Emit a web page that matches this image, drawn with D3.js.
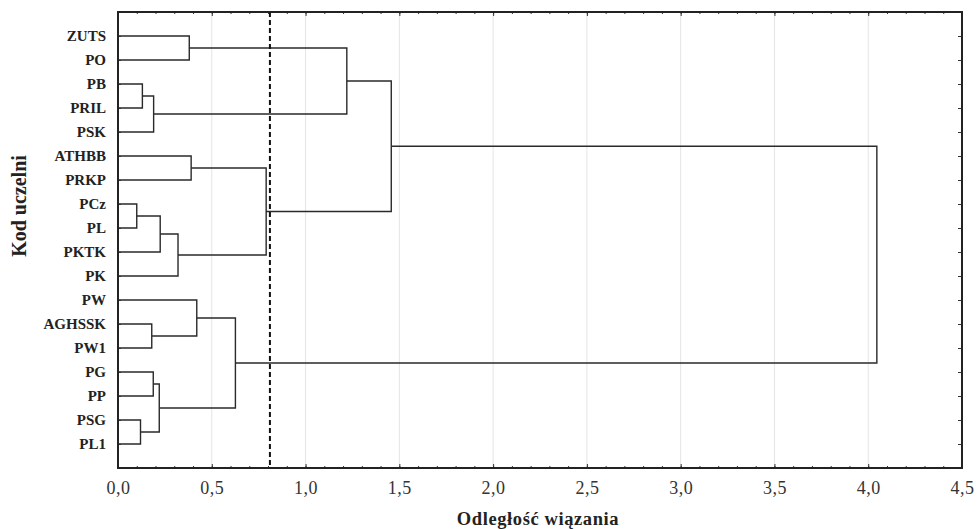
<!DOCTYPE html>
<html>
<head>
<meta charset="utf-8">
<script src="https://cdn.jsdelivr.net/npm/d3@7"></script>
<style>
  body { margin: 0; background: #fff; }
</style>
</head>
<body>
<svg id="chart"></svg>
<script>
let svgWidth = 978, svgHeight = 529
let serif = '"Liberation Serif", "Times New Roman", "DejaVu Serif", serif'

// leaf order, top to bottom
let leaves = ['ZUTS','PO','PB','PRIL','PSK','ATHBB','PRKP','PCz','PL','PKTK','PK',
  'PW','AGHSSK','PW1','PG','PP','PSG','PL1']

// merges: [left child, right child, linkage distance]; children are leaf names or merge ids (m0..)
let merges = [
  ['ZUTS', 'PO', 0.38],      // m0
  ['PB', 'PRIL', 0.13],      // m1
  ['m1', 'PSK', 0.19],       // m2
  ['m0', 'm2', 1.22],        // m3
  ['ATHBB', 'PRKP', 0.39],   // m4
  ['PCz', 'PL', 0.10],       // m5
  ['m5', 'PKTK', 0.225],     // m6
  ['m6', 'PK', 0.32],        // m7
  ['m4', 'm7', 0.79],        // m8
  ['m3', 'm8', 1.457],       // m9
  ['AGHSSK', 'PW1', 0.18],   // m10
  ['PW', 'm10', 0.42],       // m11
  ['PG', 'PP', 0.188],       // m12
  ['PSG', 'PL1', 0.12],      // m13
  ['m12', 'm13', 0.22],      // m14
  ['m11', 'm14', 0.626],     // m15
  ['m9', 'm15', 4.046]       // m16 root
]

let cutoff = 0.81
let xTicks = [0, 0.5, 1, 1.5, 2, 2.5, 3, 3.5, 4, 4.5]

let margin = {left: 118, right: 16, top: 12, bottom: 61}
let plotW = svgWidth - margin.left - margin.right
let plotH = svgHeight - margin.top - margin.bottom

let svg = d3.select('#chart').attr('width', svgWidth).attr('height', svgHeight)
let g = svg.append('g').attr('transform', `translate(${margin.left},${margin.top})`)

let x = d3.scaleLinear().domain([0, 4.5]).range([0, plotW])
let y = d3.scalePoint().domain(leaves).range([0, plotH]).padding(1)

let fmt = d => d3.format('.1f')(d).replace('.', ',')

// grid
g.selectAll('.grid').data(xTicks.slice(1, -1)).enter().append('line')
  .attr('x1', d => x(d)).attr('x2', d => x(d))
  .attr('y1', 0).attr('y2', plotH)
  .attr('stroke', '#e4e4e4').attr('stroke-width', 1)

// node positions
let pos = {}
leaves.forEach(l => pos[l] = {x: 0, y: y(l)})
let links = g.append('g').attr('fill', 'none').attr('stroke', '#2a2a2a').attr('stroke-width', 1.4)
merges.forEach((m, i) => {
  let a = pos[m[0]], b = pos[m[1]], h = x(m[2])
  links.append('path')
    .attr('d', `M${a.x},${a.y}H${h}V${b.y}H${b.x}`)
  pos['m' + i] = {x: h, y: (a.y + b.y) / 2}
})

// cutoff line
g.append('line')
  .attr('x1', x(cutoff)).attr('x2', x(cutoff))
  .attr('y1', 0).attr('y2', plotH)
  .attr('stroke', '#111').attr('stroke-width', 2)
  .attr('stroke-dasharray', '5,3')

// axes: bottom & top with inward ticks
let minor = d3.range(0, 4.51, 0.1)
let bottomAxis = g.append('g').attr('transform', `translate(0,${plotH})`)
bottomAxis.call(d3.axisBottom(x).tickValues(minor).tickSize(-2).tickFormat(''))
bottomAxis.append('g').call(d3.axisBottom(x).tickValues(xTicks).tickSize(-4).tickPadding(13).tickFormat(fmt))
bottomAxis.selectAll('.domain').remove()
bottomAxis.selectAll('text').style('font-size', '18px').style('font-family', serif)
  .style('letter-spacing', '0.5px').attr('fill', '#333')
bottomAxis.selectAll('line').attr('stroke', '#333')

let topAxis = g.append('g')
topAxis.call(d3.axisTop(x).tickValues(minor).tickSize(-2).tickFormat(''))
topAxis.append('g').call(d3.axisTop(x).tickValues(xTicks).tickSize(-4).tickFormat(''))
topAxis.selectAll('.domain').remove()
topAxis.selectAll('line').attr('stroke', '#333')

// left axis with leaf labels
let leftAxis = g.append('g')
leftAxis.call(d3.axisLeft(y).tickSize(-3).tickPadding(12))
leftAxis.select('.domain').remove()
leftAxis.selectAll('text').style('font-size', '15px').style('font-weight', 'bold')
  .style('font-family', serif).attr('fill', '#222')
leftAxis.selectAll('line').attr('stroke', '#333')

// right axis ticks
let rightAxis = g.append('g').attr('transform', `translate(${plotW},0)`)
rightAxis.call(d3.axisRight(y).tickSize(-4).tickFormat(''))
rightAxis.select('.domain').remove()
rightAxis.selectAll('line').attr('stroke', '#333')

// frame
g.append('rect').attr('width', plotW).attr('height', plotH)
  .attr('fill', 'none').attr('stroke', '#222').attr('stroke-width', 2)

// titles
svg.append('text')
  .attr('x', margin.left + plotW / 2 - 2).attr('y', 525)
  .attr('text-anchor', 'middle').attr('fill', '#222')
  .style('font-size', '18.5px').style('font-weight', 'bold').style('font-family', serif)
  .style('letter-spacing', '0.6px')
  .text('Odległość wiązania')

svg.append('text')
  .attr('transform', `translate(26,${margin.top + 194}) rotate(-90)`)
  .attr('text-anchor', 'middle').attr('fill', '#222')
  .style('font-size', '20px').style('font-weight', 'bold').style('font-family', serif)
  .text('Kod uczelni')
</script>
</body>
</html>
